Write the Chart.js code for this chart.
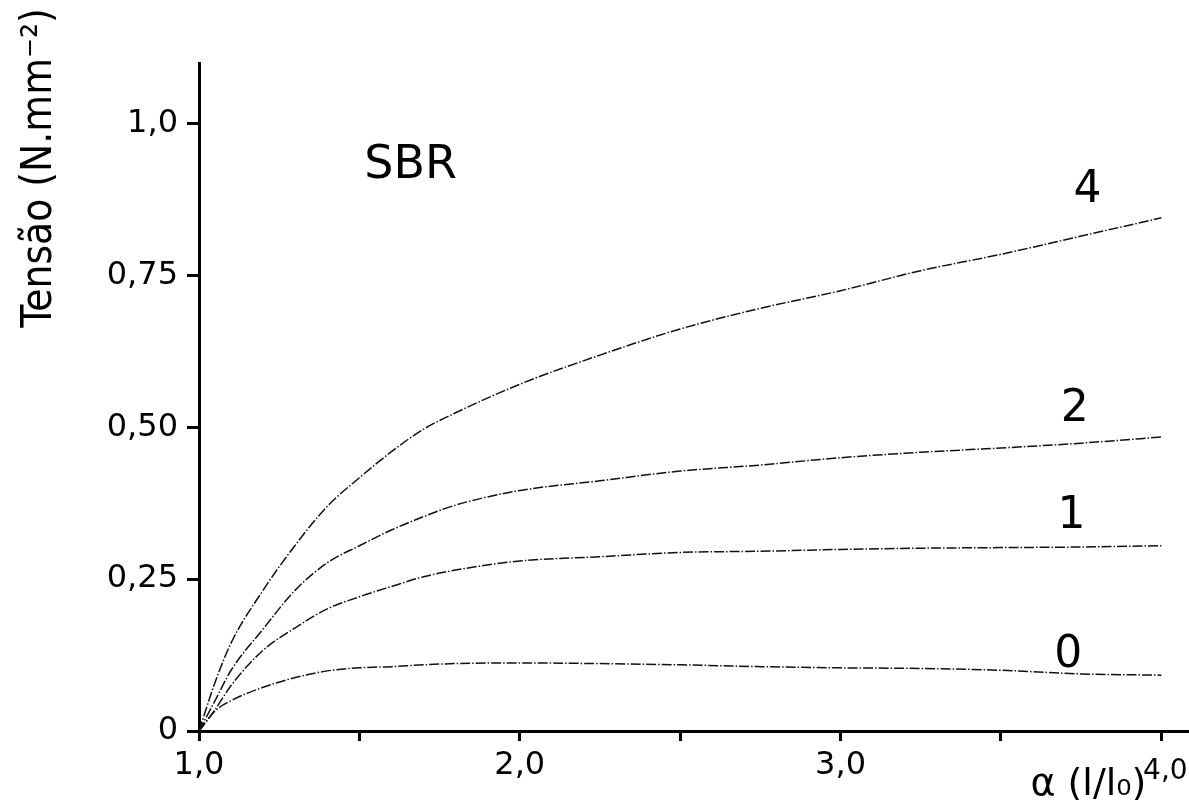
<!DOCTYPE html>
<html>
<head>
<meta charset="utf-8">
<title>SBR - Tensão x alongamento</title>
<script src="https://cdn.jsdelivr.net/npm/chart.js@4.4.1/dist/chart.umd.min.js"></script>
<style>
  html, body { margin: 0; padding: 0; background: #fff; }
  #wrap { width: 1189px; height: 800px; position: relative; }
</style>
</head>
<body>
<div id="wrap"><canvas id="grafico"></canvas></div>
<script>
// valores (SBR, curvas 0, 1, 2 e 4)
const alfa = [1.0, 1.05, 1.1, 1.2, 1.3, 1.4, 1.5, 1.6, 1.7, 1.8, 2.0, 2.25, 2.5, 2.75, 3.0, 3.25, 3.5, 3.75, 4.0];
const curva4 = [0, 0.08, 0.145, 0.232, 0.306, 0.37, 0.417, 0.46, 0.497, 0.524, 0.571, 0.619, 0.662, 0.696, 0.725, 0.758, 0.785, 0.815, 0.845];
const curva2 = [0, 0.05, 0.1, 0.168, 0.232, 0.277, 0.305, 0.331, 0.353, 0.372, 0.396, 0.412, 0.428, 0.438, 0.45, 0.459, 0.466, 0.474, 0.484];
const curva1 = [0, 0.035, 0.075, 0.133, 0.17, 0.201, 0.221, 0.238, 0.254, 0.265, 0.28, 0.287, 0.294, 0.296, 0.299, 0.301, 0.302, 0.303, 0.305];
const curva0 = [0, 0.033, 0.05, 0.072, 0.088, 0.099, 0.104, 0.106, 0.109, 0.111, 0.112, 0.111, 0.109, 0.106, 0.104, 0.103, 0.1, 0.094, 0.092];

const nomesCurvas = ['4', '2', '1', '0'];
const xTickValues = [1.0, 1.5, 2.0, 2.5, 3.0, 3.5, 4.0];
const xTickLabels = ['1,0', '', '2,0', '', '3,0', '', '4,0'];
const yTickValues = [0, 0.25, 0.5, 0.75, 1.0];
const yTickLabels = ['0', '0,25', '0,50', '0,75', '1,0'];

const preto = '#111';
const fonte = '"DejaVu Sans", sans-serif';

function serie(valores) {
    return {
        data: alfa.map((a, i) => ({ x: a, y: valores[i] })),
        borderColor: preto,
        borderWidth: 1.5,
        borderDash: [10, 2, 1.5, 2],
        pointRadius: 0,
        fill: false,
        cubicInterpolationMode: 'monotone'
    };
}

// textos soltos: título do eixo y, SBR, números das curvas, eixo x
const textos = {
    id: 'textos',
    afterDraw(chart) {
        const { ctx, scales: { x, y } } = chart;
        ctx.save();
        ctx.fillStyle = '#000';
        ctx.textAlign = 'center';
        ctx.textBaseline = 'middle';

        ctx.font = '46px ' + fonte;
        ctx.fillText('SBR', x.getPixelForValue(1.66), y.getPixelForValue(0.93));

        const posCurvas = [[3.77, 0.89], [3.73, 0.53], [3.72, 0.353], [3.71, 0.125]];
        ctx.font = '44px ' + fonte;
        nomesCurvas.forEach((n, i) => {
            ctx.fillText(n, x.getPixelForValue(posCurvas[i][0]), y.getPixelForValue(posCurvas[i][1]));
        });

        // rótulo 4,0 fica ao lado do α (l/l0), um pouco menor
        ctx.font = '28px ' + fonte;
        ctx.fillText(xTickLabels[xTickLabels.length - 1], x.getPixelForValue(4.0) + 4, y.bottom + 41);

        ctx.font = '38px ' + fonte;
        ctx.textAlign = 'right';
        ctx.textBaseline = 'alphabetic';
        ctx.fillText('α (l/l₀)', x.getPixelForValue(4.0) - 15, y.bottom + 64);

        ctx.translate(40, 168);
        ctx.rotate(-Math.PI / 2);
        ctx.textAlign = 'center';
        ctx.textBaseline = 'middle';
        ctx.font = '42px "Liberation Sans Narrow", "DejaVu Sans Condensed", sans-serif';
        ctx.fillText('Tensão (N.mm⁻²)', 0, 0);
        ctx.restore();
    }
};

const ctx = document.getElementById('grafico').getContext('2d');
const grafico = new Chart(ctx, {
    type: 'line',
    data: {
        datasets: [serie(curva4), serie(curva2), serie(curva1), serie(curva0)]
    },
    options: {
        responsive: true,
        maintainAspectRatio: false,
        animation: false,
        layout: { padding: { top: 63, right: 2, bottom: 0, left: 0 } },
        plugins: {
            legend: { display: false },
            tooltip: { enabled: false }
        },
        scales: {
            x: {
                type: 'linear',
                min: 1.0,
                max: 4.08,
                afterFit: (s) => { s.height = 69; },
                afterBuildTicks: (s) => { s.ticks = xTickValues.map(v => ({ value: v })); },
                border: { display: true, color: '#000', width: 3 },
                grid: { drawOnChartArea: false, drawTicks: true, tickLength: 10, color: '#000', lineWidth: 3 },
                ticks: {
                    autoSkip: false,
                    maxRotation: 0,
                    padding: 5,
                    color: '#000',
                    font: { family: fonte, size: 32 },
                    callback: (v) => {
                        const i = xTickValues.indexOf(v);
                        return (i < 0 || i === xTickValues.length - 1) ? '' : xTickLabels[i];
                    }
                }
            },
            y: {
                type: 'linear',
                min: 0,
                max: 1.1,
                afterFit: (s) => { s.width = 199; },
                afterBuildTicks: (s) => { s.ticks = yTickValues.map(v => ({ value: v })); },
                border: { display: true, color: '#000', width: 3 },
                grid: { drawOnChartArea: false, drawTicks: true, tickLength: 12, color: '#000', lineWidth: 3 },
                ticks: {
                    padding: 9,
                    color: '#000',
                    font: { family: fonte, size: 32 },
                    callback: (v) => {
                        const i = yTickValues.indexOf(v);
                        return i < 0 ? '' : yTickLabels[i];
                    }
                }
            }
        }
    },
    plugins: [textos]
});
</script>
</body>
</html>
